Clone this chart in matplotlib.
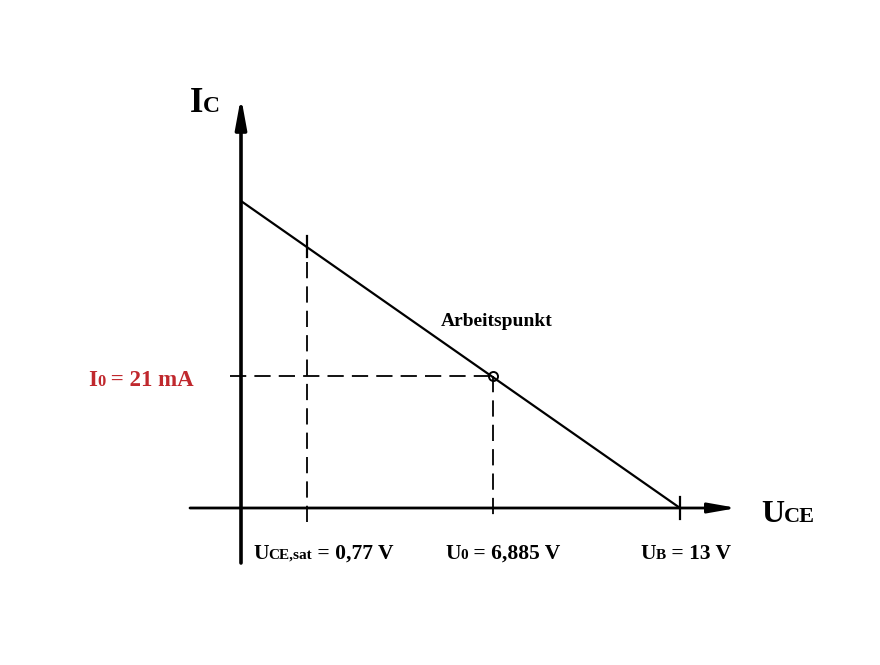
import matplotlib
matplotlib.use("Agg")
import matplotlib.pyplot as plt

# ---- data (schematic diagram) ----
u_b = 13.0            # supply voltage (x end of load line), V
i_max = 48.8          # load line intercept on I axis (schematic), mA
i_0 = 21.0            # operating point current, mA
u_0_pos = 7.46        # drawn position of operating point voltage (schematic)
u_sat_pos = 1.95      # drawn position of saturation voltage line (schematic)
label_i0 = "= 21 mA"
label_usat = "= 0,77 V"
label_u0 = "= 6,885 V"
label_ub = "= 13 V"

W, H, DPI = 880, 665, 100
X0PX, YPX0 = 241, 508           # pixel of origin
PXV = 439 / u_b                 # pixels per volt
PXA = 307 / i_max               # pixels per mA

fig = plt.figure(figsize=(W / DPI, H / DPI), dpi=DPI)
ax = fig.add_axes([0, 0, 1, 1])
ax.set_xlim(-X0PX / PXV, (W - X0PX) / PXV)
ax.set_ylim(-(H - YPX0) / PXA, YPX0 / PXA)
ax.axis("off")

def px2x(p):
    return (p - X0PX) / PXV

def px2y(p):
    return (YPX0 - p) / PXA

serif = "Liberation Serif"
red = "#c0282d"
DASH = (9, 4.5)

# axes with arrows
ax.annotate("", xy=(0, px2y(97)), xytext=(0, px2y(563)),
            arrowprops=dict(arrowstyle="-|>,head_length=1.8,head_width=0.33",
                            lw=2.6, color="black", shrinkA=0, shrinkB=0))
ax.annotate("", xy=(px2x(737), 0), xytext=(px2x(190), 0),
            arrowprops=dict(arrowstyle="-|>,head_length=1.7,head_width=0.3",
                            lw=2.0, color="black", shrinkA=0, shrinkB=0))

# load line
ax.plot([0, u_b], [i_max, 0], color="black", lw=1.6, solid_capstyle="butt")

# tick at U_B
ax.plot([u_b, u_b], [px2y(497), px2y(519)], color="black", lw=1.6)

# saturation line: solid tick + dashed
ax.plot([u_sat_pos, u_sat_pos], [px2y(236), px2y(257)], color="black", lw=1.6)
ax.plot([u_sat_pos, u_sat_pos], [px2y(262), px2y(528)], color="black", lw=1.3,
        dashes=DASH)

# operating point dashed lines
ax.plot([px2x(230), u_0_pos], [i_0, i_0], color="black", lw=1.3, dashes=DASH)
ax.plot([u_0_pos, u_0_pos], [i_0, px2y(522)], color="black", lw=1.3, dashes=DASH)
ax.plot([u_0_pos], [i_0], marker="o", ms=6.5, mfc="none", mec="black", mew=1.4)

fig.canvas.draw()
renderer = fig.canvas.get_renderer()

def rich(x, y, parts, color="black"):
    """Draw text pieces on a common baseline, starting at data (x, y)."""
    off = 0.0
    for s, size in parts:
        t = ax.annotate(s, xy=(x, y), xycoords="data",
                        xytext=(off, 0), textcoords="offset points",
                        ha="left", va="baseline", fontsize=size,
                        fontfamily=serif, fontweight="bold", color=color)
        bb = t.get_window_extent(renderer)
        off += bb.width * 72 / DPI

# axis labels
rich(px2x(190), px2y(112), [("I", 25), ("C", 17)])
rich(px2x(761), px2y(522), [("U", 23), ("CE", 16)])

# operating point label
rich(px2x(441), px2y(326), [("Arbeitspunkt", 14)])

# current label
rich(px2x(88), px2y(386), [("I", 16.5), ("0", 12), (" " + label_i0, 16.5)], color=red)

# voltage labels
rich(px2x(253), px2y(559), [("U", 15.5), ("CE,sat", 11), (" " + label_usat, 15.5)])
rich(px2x(445), px2y(559), [("U", 15.5), ("0", 11), (" " + label_u0, 15.5)])
rich(px2x(640), px2y(559), [("U", 15.5), ("B", 11), (" " + label_ub, 15.5)])

fig.savefig("out.png", dpi=DPI, facecolor="white")
